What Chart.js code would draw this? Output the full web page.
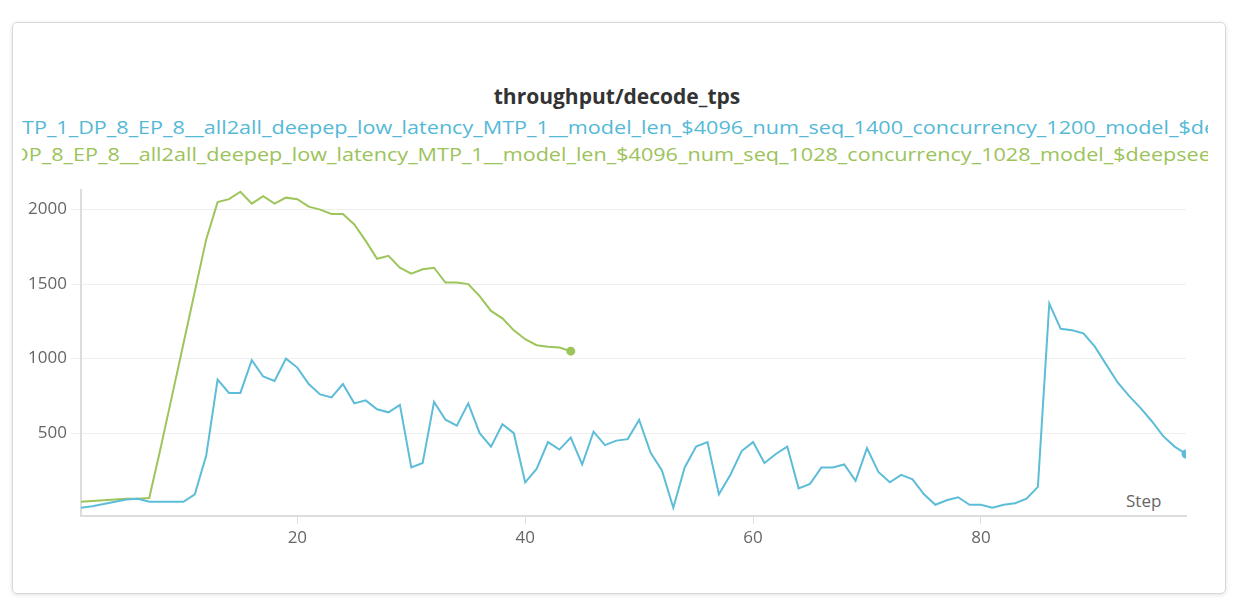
<!DOCTYPE html>
<html><head><meta charset="utf-8">
<script src="https://cdn.jsdelivr.net/npm/chart.js@4/dist/chart.umd.min.js"></script>
<style>
body{margin:0;background:#fff;font-family:"Open Sans",sans-serif;}
#card{position:absolute;left:12px;top:22px;width:1212px;height:570px;border:1px solid #d8d8d8;border-radius:5px;box-shadow:0 1px 4px rgba(0,0,0,.12);overflow:hidden;}
#title{position:absolute;left:0;width:1234px;top:82px;text-align:center;font:bold 21px "Open Sans",sans-serif;color:#333;}
.leg{position:absolute;left:22px;width:1186px;overflow:hidden;white-space:nowrap;font:18px "Open Sans",sans-serif;}
.leg span{display:inline-block;transform:scaleX(1.2);transform-origin:left center;}
#wrap{position:absolute;left:18px;top:176px;width:1174px;height:376px;}
#step{position:absolute;left:1124px;top:489px;font:17px "Open Sans",sans-serif;color:#666;background:#fff;padding:0 2px;}
</style></head><body>
<div id="card"></div>
<div id="title">throughput/decode_tps</div>
<div class="leg" style="top:115px;color:#55b9d6"><span>TP_1_DP_8_EP_8__all2all_deepep_low_latency_MTP_1__model_len_$4096_num_seq_1400_concurrency_1200_model_$deepseek</span></div>
<div class="leg" style="top:142px;color:#9cc35a"><span style="margin-left:-9px">DP_8_EP_8__all2all_deepep_low_latency_MTP_1__model_len_$4096_num_seq_1028_concurrency_1028_model_$deepseek</span></div>
<div id="wrap"><canvas id="c"></canvas></div>
<div id="step">Step</div>
<script>
const steps = Array.from({length:98},(_,i)=>i+1);
const labelBlue = "TP_1_DP_8_EP_8__all2all_deepep_low_latency_MTP_1__model_len_$4096_num_seq_1400_concurrency_1200";
const labelGreen = "DP_8_EP_8__all2all_deepep_low_latency_MTP_1__model_len_$4096_num_seq_1028_concurrency_1028";
const blueValues = [0,10,25,40,55,60,40,40,40,40,90,350,860,770,770,990,880,850,1000,940,830,760,740,830,700,720,660,640,690,270,300,710,590,550,700,500,410,560,500,170,260,440,390,470,290,510,420,450,460,590,370,250,0,270,410,440,90,220,380,440,300,360,410,130,160,270,270,290,180,400,240,170,220,190,90,20,50,70,20,20,0,20,30,60,140,1370,1200,1190,1170,1080,960,840,750,670,580,480,410,360];
const greenValues = [40,45,50,55,60,60,65,400,750,1100,1450,1800,2050,2070,2120,2040,2090,2040,2080,2070,2020,2000,1970,1970,1900,1790,1670,1690,1610,1570,1600,1610,1510,1510,1500,1420,1320,1270,1190,1130,1090,1080,1075,1050];
const yTicks = [500,1000,1500,2000];
const xTicks = [20,40,60,80];
const pts = (v)=>v.map((y,i)=>({x:steps[i],y}));
const lastDot = (n)=>(ctx)=>ctx.dataIndex===n-1?3.5:0;
new Chart(document.getElementById('c'),{
 type:'line',
 data:{datasets:[
  {label:labelBlue,data:pts(blueValues),borderColor:'#5dbdd8',backgroundColor:'#5dbdd8',borderWidth:2,pointRadius:lastDot(blueValues.length),tension:0},
  {label:labelGreen,data:pts(greenValues),borderColor:'#9dc55b',backgroundColor:'#9dc55b',borderWidth:2,pointRadius:lastDot(greenValues.length),tension:0}
 ]},
 options:{responsive:true,maintainAspectRatio:false,animation:false,
  plugins:{legend:{display:false},tooltip:{enabled:false}},
  layout:{padding:{left:6,right:6}},
  scales:{
   x:{type:'linear',min:1,max:98,
      afterBuildTicks:(a)=>{a.ticks=xTicks.map(v=>({value:v}));},
      grid:{display:true,drawOnChartArea:false,tickLength:8,color:'#ddd'},
      border:{color:'#ddd',width:2},
      ticks:{color:'#666',font:{size:17,family:'Open Sans'},padding:4}},
   y:{min:-53,max:2130,
      afterBuildTicks:(a)=>{a.ticks=yTicks.map(v=>({value:v}));},
      grid:{color:'#eeeeee',tickLength:10},
      border:{color:'#ddd',width:2},
      ticks:{color:'#666',font:{size:17,family:'Open Sans'},padding:4,callback:(v)=>String(v)}}
  }}
});
</script>
</body></html>
